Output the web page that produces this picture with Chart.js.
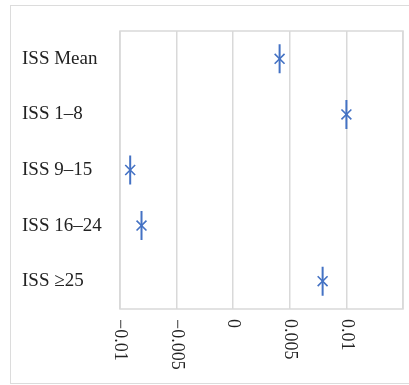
<!DOCTYPE html>
<html><head><meta charset="utf-8">
<script src="https://cdn.jsdelivr.net/npm/chart.js@4/dist/chart.umd.min.js"></script>
<style>
html,body{margin:0;padding:0;background:#fff;width:409px;height:385px;overflow:hidden;}
#frame{position:absolute;left:10px;top:5px;width:440px;height:377px;border:1px solid #dcdcdc;border-right:none;}
#wrap{position:absolute;left:0;top:0;width:409px;height:385px;}
</style></head><body>
<div id="frame"></div>
<div id="wrap"><canvas id="c" width="409" height="385"></canvas></div>
<script>
const categories = ["ISS Mean", "ISS 1\u20138", "ISS 9\u201315", "ISS 16\u201324", "ISS \u226525"];
const values = [0.0041, 0.0100, -0.0091, -0.0081, 0.0079];
const xTickValues = [-0.01, -0.005, 0, 0.005, 0.01];
const xTickLabels = ["\u22120.01", "\u22120.005", "0", "0.005", "0.01"];
const xMin = -0.01, xMax = 0.015;

const blue = '#4472C4';
const fontFamily = '"Liberation Serif", "DejaVu Serif", serif';

const framePlugin = {
  id: 'frameAndTicks',
  beforeDatasetsDraw(chart) {
    const a = chart.chartArea, ctx = chart.ctx;
    ctx.save();
    ctx.strokeStyle = '#d9d9d9';
    ctx.lineWidth = 1.5;
    ctx.strokeRect(a.left, a.top, a.right - a.left, a.bottom - a.top);
    ctx.restore();
  },
  afterDraw(chart) {
    const xs = chart.scales.x, ctx = chart.ctx, a = chart.chartArea;
    ctx.save();
    ctx.font = '18px ' + fontFamily;
    ctx.fillStyle = '#222';
    ctx.textAlign = 'left';
    ctx.textBaseline = 'middle';
    xTickValues.forEach((v, i) => {
      const px = xs.getPixelForValue(v);
      ctx.save();
      ctx.translate(px, a.bottom + 10);
      ctx.rotate(Math.PI / 2);
      ctx.fillText(xTickLabels[i], 0, 0);
      ctx.restore();
    });
    ctx.restore();
  }
};

new Chart(document.getElementById('c'), {
  type: 'line',
  data: {
    labels: categories,
    datasets: [
      { data: values, showLine: false, pointStyle: 'line', rotation: 90, pointRadius: 14.5,
        borderColor: blue, pointBorderColor: blue, pointBorderWidth: 2, pointHoverRadius: 14.5 },
      { data: values, showLine: false, pointStyle: 'crossRot', pointRadius: 7,
        borderColor: blue, pointBorderColor: blue, pointBorderWidth: 1.6, pointHoverRadius: 7 }
    ]
  },
  options: {
    indexAxis: 'y',
    responsive: false,
    animation: false,
    devicePixelRatio: 1,
    layout: { autoPadding: false, padding: { left: 22, top: 31, right: 6, bottom: 0 } },
    plugins: { legend: { display: false }, tooltip: { enabled: false } },
    scales: {
      x: {
        type: 'linear', min: xMin, max: xMax,
        ticks: { display: false, stepSize: 0.005 },
        grid: { color: '#d9d9d9', lineWidth: 1.5, drawTicks: false },
        border: { display: false },
        afterFit(s) { s.height = 76; }
      },
      y: {
        type: 'category', offset: true,
        grid: { display: false, drawTicks: false },
        border: { display: false },
        ticks: { crossAlign: 'far', color: '#222', padding: 0,
                 font: { family: fontFamily, size: 19 } },
        afterFit(s) { s.width = 98; }
      }
    }
  },
  plugins: [framePlugin]
});
</script>
</body></html>
